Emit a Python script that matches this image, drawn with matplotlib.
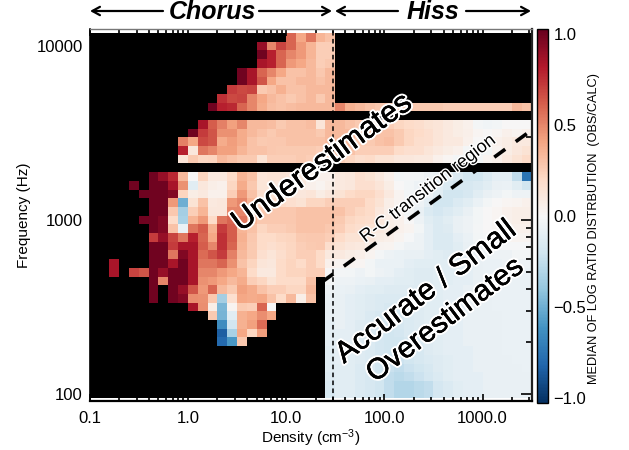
import numpy as np
import matplotlib
matplotlib.use("Agg")
import matplotlib.pyplot as plt
import matplotlib.patheffects as pe
from matplotlib.ticker import FixedLocator, NullFormatter

plt.rcParams["font.family"] = ["Liberation Sans", "DejaVu Sans"]
plt.rcParams["mathtext.default"] = "regular"

x = np.nan

# median log ratio, one list per frequency row (top row first)
# low density side: (first filled column, values)
low_rows = [
    (20, [.6, .4, .55, .35, .3]),
    (17, [.9, .5, .7, .6, .45, .35, .25, .25]),
    (17, [1., .8, .6, .5, .45, .35, .25, .25]),
    (17, [.85, .8, .6, .45, .4, .33, .25, .28]),
    (15, [1., .85, .6, .5, .4, .3, .3, .33, .28, .33]),
    (15, [1., .85, .65, .4, .3, .3, .33, .33, .3, .33]),
    (14, [.72, .68, .7, .27, .3, .37, .3, .3, .33, .33, .33]),
    (13, [.75, .68, .7, .5, .4, .33, .3, .27, .3, .33, .27, .33]),
    (12, [1., .8, .78, .6, .5, .38, .32, .3, .32, .33, .33, .33, .33]),
    (0, []),
    (11, [.85, .62, .52, .42, .5, .33, .33, .32, .27, .3, .3, .32, .13, .33]),
    (10, [1., .72, .65, .47, .47, .38, .33, .3, .27, .3, .3, .3, .3, .27, .33]),
    (9, [.52, .4, .68, .65, .38, .43, .38, .3, .27, .28, .28, .3, .3, .3, .3, .33]),
    (9, [.8, .12, .55, .5, .42, .42, .35, .3, .3, .28, .27, .27, .27, .27, .25, .3]),
    (9, [.13, .27, .22, .23, .33, .3, .27, .27, .15, .25, .25, .25, .27, .25, .22, .25]),
    (0, []),
    (6, [1., .9, .78, .33, 0, .23, .1, .1, .2, .35, .3, .13, .15, .15, .13, .1, .07, .05, .05]),
    (4, [1., x, 1., 1., .85, .47, -.12, .12, .07, .05, .22, .38, .28, .13, .13, .12, .12, .1, .05, .03, .07]),
    (5, [1., 1., 1., .95, .23, .08, .1, .05, .05, .25, .45, .3, .17, .15, .15, .13, .12, .13, .08, .12]),
    (6, [1., 1., .45, -.5, .15, .3, .1, .12, .45, .5, .35, .22, .2, .2, .17, .15, .22, .22, .25]),
    (6, [1., 1., .28, -.35, .25, .35, .12, .12, .5, .5, .38, .28, .28, .28, .28, .3, .3, .3, .3]),
    (5, [1., 1., .95, .2, -.33, .35, .45, .2, .55, .6, .55, .35, .28, .28, .28, .28, .3, .3, .3, .3]),
    (6, [1., .95, .3, -.07, .55, .62, .37, .72, .62, .35, .3, .22, .25, .25, .27, .3, .3, .3, .28]),
    (6, [.72, .9, .7, .55, .8, .6, .4, .75, .62, .37, .28, .2, .2, .22, .23, .27, .28, .28, .25]),
    (6, [1., 1., .72, .85, .85, .62, .5, .75, .6, .35, .27, .2, .17, .2, .22, .25, .27, .28, .18]),
    (6, [1., 1., .55, .95, .85, .58, .65, .72, .52, .33, .27, .17, .13, .18, .22, .25, .25, .2, .1]),
    (2, [.85, x, x, x, 1., 1., .85, 1., .85, .55, .55, .6, .47, .3, .23, .13, .12, .2, .23, .2, .25, .2, .05]),
    (2, [.85, x, .7, .65, 1., .9, 1., 1., .85, .5, .5, .45, .4, .35, .2, .1, .1, .2, .23, .23, .25, .25, 0]),
    (6, [1., .5, 1., 1., .85, .47, .45, .4, .33, .38, .25, .22, .15, .2, .2, .2, .3, x, -.02]),
    (6, [1., x, 1., .9, .65, .45, .6, .33, .27, .42, .38, .3, .25, .25, .22, .22, .33, x, -.05]),
    (6, [1., x, 1., .95, .48, .47, .28, -.35, .17, .4, .38, .4, .3, .2, .33, .07, .3, x, -.07]),
    (10, [.85, .48, .07, -.47, .03, .27, .25, .6, 0, x, x, x, x, x, -.08]),
    (12, [.27, -.48, -.12, .37, .4, .48, .4, x, x, x, x, x, -.08]),
    (13, [-.65, -.2, .37, .42, .58, x, x, x, x, x, x, -.1]),
    (13, [-.85, -.33, .4, .22, .43, x, x, x, x, x, x, -.1]),
    (13, [-.8, -.6, .28, x, x, x, x, x, x, x, x, -.1]),
    (24, [-.12]),
    (24, [-.12]),
    (24, [-.12]),
    (24, [-.13]),
    (24, [-.15]),
    (24, [-.17]),
]

# high density side, columns 25 to 44, starting at row 8
high_first_row = 8
high_rows = [
    [.5, .37, .33, .3, .28, .3, .3, .28, .27, .27, .27, .25, .25, .25, .25, .25, .25, .25, .33, .3],
    [x] * 20,
    [.33, .3, .27, .25, .25, .25, .22, .2, .18, .15, .13, .1, .08, .05, -.02, -.04, -.03, 0, 0, 0],
    [.33, .33, .28, .28, .3, .3, .27, .22, .2, .17, .13, .1, .08, .06, .02, 0, .02, .05, .03, .05],
    [.33, .33, .27, .27, .3, .32, .27, .22, .18, .17, .13, .1, .1, .05, 0, -.03, .05, .08, .1, .1],
    [.32, .3, .25, .25, .25, .25, .2, .17, .17, .13, .1, .08, .05, -.02, -.05, -.03, .03, .08, .12, .15],
    [.25, .22, .18, .2, .15, .15, .12, .12, .1, .1, .05, .02, -.02, -.03, -.03, .03, .05, .1, .15, .2],
    [x] * 20,
    [.1, .12, .17, .15, .1, .05, -.03, -.02, -.03, -.05, -.07, -.1, -.15, -.2, -.2, -.15, -.1, -.1, -.25, -.75],
    [.1, .12, .17, .17, .13, .08, 0, -.03, -.05, -.08, -.1, -.15, -.17, -.17, -.15, -.12, -.08, -.07, -.12, -.2],
    [.15, .2, .22, .22, .17, .1, .03, -.03, -.02, -.05, -.12, -.2, -.2, -.17, -.12, -.08, -.05, -.03, -.05, -.05],
    [.25, .25, .25, .2, .15, .07, .03, -.02, -.05, -.1, -.2, -.2, -.15, -.12, -.07, -.03, 0, .02, .03, .05],
    [.3, .25, .22, .2, .12, .07, .03, -.03, -.08, -.15, -.18, -.15, -.12, -.08, -.03, 0, .02, .05, .07, .07],
    [.27, .22, .2, .18, .12, .07, .05, 0, -.05, -.12, -.15, -.12, -.08, -.05, -.03, 0, .02, .05, .07, .07],
    [.25, .2, .17, .15, .1, .08, .05, .03, -.03, -.1, -.15, -.13, -.08, -.05, -.02, 0, .02, .05, .05, .05],
    [.2, .15, .15, .12, .08, .06, .03, -.01, -.05, -.1, -.15, -.15, -.1, -.07, -.03, -.01, .01, .03, .03, .03],
    [.15, .12, .1, .07, .04, .03, -.02, -.05, -.05, -.1, -.15, -.15, -.12, -.08, -.05, -.03, -.02, -.01, -.01, -.01],
    [.1, .08, .06, .03, -.02, -.05, -.07, -.08, -.08, -.1, -.12, -.13, -.12, -.1, -.07, -.05, -.05, -.05, -.03, -.03],
    [.03, .03, .02, -.03, -.07, -.07, -.07, -.1, -.12, -.12, -.12, -.12, -.1, -.1, -.08, -.07, -.07, -.05, -.05, -.05],
    [-.02, -.03, -.05, -.03, -.05, -.07, -.1, -.12, -.13, -.13, -.12, -.12, -.12, -.1, -.08, -.07, -.07, -.05, -.07, -.07],
    [-.05, -.05, -.07, -.08, -.1, -.1, -.12, -.12, -.13, -.13, -.12, -.12, -.1, -.1, -.08, -.08, -.07, -.07, -.07, -.07],
    [-.07, -.08, -.1, -.12, -.12, -.13, -.13, -.13, -.13, -.12, -.12, -.1, -.1, -.08, -.08, -.08, -.07, -.07, -.07, -.07],
    [-.08, -.1, -.12, -.13, -.15, -.15, -.15, -.15, -.13, -.12, -.12, -.1, -.1, -.08, -.08, -.08, -.07, -.07, -.07, -.07],
    [-.08, -.1, -.12, -.13, -.15, -.17, -.17, -.15, -.13, -.12, -.12, -.1, -.1, -.08, -.08, -.08, -.07, -.07, -.07, -.07],
    [-.08, -.1, -.12, -.15, -.17, -.17, -.17, -.15, -.13, -.12, -.12, -.1, -.1, -.08, -.08, -.08, -.08, -.07, -.07, -.07],
    [-.08, -.1, -.13, -.15, -.17, -.17, -.17, -.15, -.13, -.12, -.12, -.1, -.1, -.08, -.08, -.08, -.08, -.07, -.07, -.07],
    [-.1, -.1, -.13, -.15, -.17, -.2, -.18, -.15, -.13, -.12, -.12, -.1, -.1, -.08, -.08, -.08, -.08, -.07, -.07, -.07],
    [-.1, -.1, -.13, -.15, -.18, -.2, -.2, -.17, -.15, -.13, -.12, -.1, -.1, -.08, -.08, -.08, -.08, -.07, -.07, -.07],
    [-.1, -.12, -.13, -.15, -.18, -.2, -.2, -.18, -.17, -.13, -.12, -.1, -.1, -.1, -.08, -.08, -.08, -.07, -.07, -.07],
    [-.1, -.12, -.13, -.15, -.18, -.22, -.22, -.2, -.17, -.15, -.13, -.12, -.1, -.1, -.08, -.08, -.08, -.08, -.07, -.07],
    [-.12, -.12, -.15, -.15, -.2, -.23, -.25, -.22, -.2, -.17, -.13, -.12, -.1, -.1, -.08, -.08, -.08, -.08, -.08, -.07],
    [-.12, -.12, -.15, -.17, -.2, -.25, -.28, -.25, -.22, -.18, -.15, -.12, -.1, -.1, -.1, -.08, -.08, -.08, -.08, -.08],
    [-.12, -.12, -.15, -.17, -.2, -.25, -.3, -.3, -.28, -.25, -.18, -.15, -.12, -.1, -.1, -.08, -.08, -.08, -.08, -.08],
    [-.12, -.12, -.15, -.17, -.2, -.25, -.3, -.3, -.28, -.25, -.18, -.15, -.12, -.1, -.1, -.08, -.08, -.08, -.08, -.08],
]

density_edges = 10 ** np.arange(-1, 3.55, 0.1)
freq_edges = 10 ** np.arange(4.075, 1.95, -0.05)

transition_density = [21, 3162]
transition_freq = [423, 3290]
boundary_density = 30

xtick_vals = [0.1, 1, 10, 100, 1000]
xtick_labels = ["0.1", "1.0", "10.0", "100.0", "1000.0"]
ytick_vals = [100, 1000, 10000]
ytick_labels = ["100", "1000", "10000"]
cbar_ticks = [-1, -0.5, 0, 0.5, 1]

grid = np.full((42, 45), np.nan)
for r, (start, vals) in enumerate(low_rows):
    grid[r, start:start + len(vals)] = vals
for r, vals in enumerate(high_rows):
    grid[high_first_row + r, 25:] = vals

W, H = 629, 450
fig = plt.figure(figsize=(W / 100, H / 100), dpi=100)
ax = fig.add_axes([89.7 / W, (H - 401) / H, 442 / W, 372 / H])

cmap = plt.get_cmap("RdBu_r").copy()
cmap.set_bad("black")
mesh = ax.pcolormesh(density_edges, freq_edges, np.ma.masked_invalid(grid),
                     cmap=cmap, vmin=-1.03, vmax=1.03, linewidth=0)

ax.set_xscale("log")
ax.set_yscale("log")
ax.set_xlim(0.1, 3162)
ax.set_ylim(10 ** 1.96, 10 ** 4.098)
ax.xaxis.set_major_locator(FixedLocator(xtick_vals))
ax.set_xticklabels(xtick_labels)
ax.yaxis.set_major_locator(FixedLocator(ytick_vals))
ax.set_yticklabels(ytick_labels)
minor = [m * d for d in (0.1, 1, 10, 100, 1000) for m in range(2, 10)]
ax.xaxis.set_minor_locator(FixedLocator([v for v in minor if v < 3162]))
ax.yaxis.set_minor_locator(FixedLocator(minor))
ax.xaxis.set_minor_formatter(NullFormatter())
ax.yaxis.set_minor_formatter(NullFormatter())
ax.tick_params(axis="x", which="major", direction="in", top=True, length=5, width=1.2, labelsize=12, pad=7)
ax.tick_params(axis="x", which="minor", direction="in", top=True, length=3, width=1.2)
ax.tick_params(axis="y", which="major", direction="in", right=True, length=8, width=1.2, labelsize=12, pad=5)
ax.tick_params(axis="y", which="minor", direction="in", right=True, length=4, width=1.2)
for name, col, lw in (("top", "#777777", 1), ("left", "black", 1.2), ("bottom", "black", 1.6), ("right", "#222222", 1.6)):
    ax.spines[name].set_color(col)
    ax.spines[name].set_linewidth(lw)
ax.set_xlabel("Density (cm$^{-3}$)", fontsize=11, labelpad=1)
ax.set_ylabel("Frequency (Hz)", fontsize=11, labelpad=4)

ax.axvline(boundary_density, color="black", lw=1.1, ls=(0, (3, 2.2)))
ax.plot(transition_density, transition_freq, color="black", lw=2.6, ls=(5.8, (3.75, 3.6)), dash_capstyle="butt")

# slightly heavier than the regular face, with a white glow
halo = [pe.withStroke(linewidth=3.2, foreground="white"),
        pe.withStroke(linewidth=0.3, foreground="black")]
fig.text(322 / W, 1 - 163 / H, "Underestimates", fontsize=22, rotation=36, ha="center", va="center",
         path_effects=halo, rotation_mode="anchor")
fig.text(426 / W, 1 - 292 / H, "Accurate / Small", fontsize=21.5, rotation=37, ha="center", va="center",
         path_effects=halo, rotation_mode="anchor")
fig.text(445 / W, 1 - 320 / H, "Overestimates", fontsize=21, rotation=37, ha="center", va="center",
         path_effects=halo, rotation_mode="anchor")
fig.text(428 / W, 1 - 189 / H, "R-C transition region", fontsize=13, rotation=37.5, ha="center", va="center",
         path_effects=[pe.withStroke(linewidth=2, foreground="white")], rotation_mode="anchor")

# arrows and regime names above the plot
fig.text(212 / W, 1 - 12 / H, "Chorus", fontsize=18, fontweight="bold", style="italic", ha="center", va="center")
fig.text(433 / W, 1 - 12 / H, "Hiss", fontsize=18, fontweight="bold", style="italic", ha="center", va="center")
for x0, x1 in ((163, 90), (259, 332), (398, 335), (466, 531)):
    ax.annotate("", xy=(x1 / W, 1 - 11 / H), xytext=(x0 / W, 1 - 11 / H), xycoords="figure fraction",
                textcoords="figure fraction", annotation_clip=False,
                arrowprops=dict(arrowstyle="->,head_length=0.55,head_width=0.3", lw=1.6, color="black",
                                shrinkA=0, shrinkB=0))

cax = fig.add_axes([537.3 / W, (H - 403) / H, 10.7 / W, 374 / H])
cb = fig.colorbar(mesh, cax=cax, ticks=cbar_ticks)
cb.ax.set_yticklabels(["\u22121.0", "\u22120.5", "0.0", "0.5", "1.0"])
cb.ax.tick_params(length=0, labelsize=12, pad=4)
cb.outline.set_linewidth(1)
fig.text(594 / W, 1 - 228 / H, "MEDIAN OF LOG RATIO DISTRBUTION  (OBS/CALC)", fontsize=9.2, rotation=90,
         ha="center", va="center")

fig.savefig("out.png", dpi=100)
